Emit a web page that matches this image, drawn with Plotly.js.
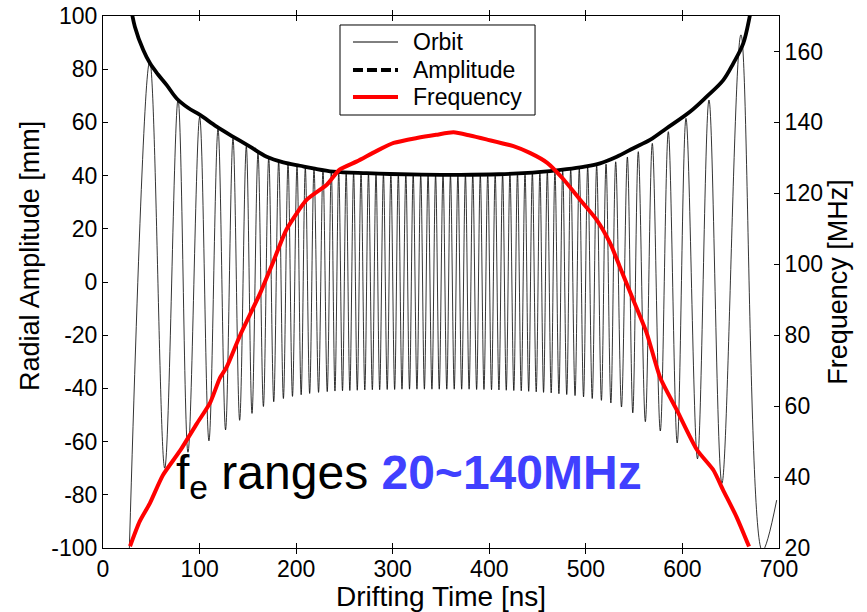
<!DOCTYPE html>
<html>
<head>
<meta charset="utf-8">
<script src="https://cdn.plot.ly/plotly-3.0.1.min.js"></script>
<style>html,body{margin:0;padding:0;background:#fff;}#chart{width:867px;height:612px;}</style>
</head>
<body>
<div id="chart"></div>
<script>
// Orbit: extrema (alternating troughs / peaks)
const orbitTime = [26.5, 48.4, 63.9, 77.7, 88, 100.1, 109.7, 119.1, 126.9, 134.6, 141.5, 148.4, 154.3, 160.5, 166.1, 171.6, 176.8, 181.9, 186.8, 191.6, 196.2, 200.9, 205.2, 209.5, 214, 218.5, 223.2, 227.8, 232.2, 236.4,
  240.2, 244.1, 248, 251.8, 255.6, 259.5, 263.3, 267.2, 271.1, 274.9, 278.9, 282.7, 286.5, 290.4, 294.3, 298.1, 302, 305.8, 309.6, 313.6, 317.4, 321.2, 325.1, 329, 332.8, 336.6, 340.6, 344.4, 348.2, 352.1, 356, 359.8, 363.7, 367.5, 371.4, 375.3, 379.1, 382.9, 386.9, 390.7, 394.5, 398.4, 402.3, 406.1, 410, 413.8, 417.6, 421.4, 425.4, 429.2, 433.1, 437, 440.8, 444.6, 448.6, 452.4, 456.2, 460.1, 464.1, 468,
  472.1, 476, 480.2, 484.3, 488.8, 493.2, 497.6, 501.9, 506.6, 511.2, 516.1, 520.9, 525.9, 530.9, 536.9, 543, 548.6, 554.3, 561.6, 568.8, 577.1, 585.4, 594.6, 603.7, 615.6, 627.5, 640.9, 660.6, 682.7, 697.6];
const orbitRadius = [-110, 83, -70, 68.5, -64, 62, -59.7, 57.5, -55.6, 54, -52, 51, -49.4, 48.5, -46.8, 46.8, -45, 45.4, -43.8, 44.4, -43, 43.6, -42.4, 43, -41.9, 42.5, -41.5, 42.1, -41.2, 41.7,
  -41, 41.4, -40.9, 41.2, -40.8, 41, -40.7, 40.9, -40.6, 40.8, -40.5, 40.7, -40.5, 40.6, -40.4, 40.5, -40.4, 40.5, -40.3, 40.4, -40.3, 40.4, -40.3, 40.3, -40.3, 40.3, -40.3, 40.3, -40.3, 40.3, -40.3, 40.3, -40.3, 40.3, -40.3, 40.3, -40.3, 40.4, -40.4, 40.4, -40.4, 40.5, -40.5, 40.6, -40.6, 40.7, -40.7, 40.8, -40.8, 40.9, -40.9, 41, -41.1, 41.2, -41.3, 41.4, -41.5, 41.6, -41.7, 41.8,
  -42, 42.1, -42.3, 42.4, -42.7, 42.8, -43.2, 43.2, -43.8, 43.7, -44.5, 44.3, -45.5, 45.2, -47, 47, -49.2, 49, -52.5, 52.1, -56, 56.5, -60.5, 61.5, -66.5, 68.4, -75.7, 92.9, -101, -82];

// Amplitude envelope
const ampTime = [28.5, 33, 41.7, 48.7, 57, 66, 76.3, 88, 100.4, 117.7, 134.9, 152.2, 169.5, 186.7, 204, 217.8, 238.5, 273, 297, 330, 370, 410, 440, 462.9, 480.2, 497.4, 514.7, 532, 549.2, 566.4, 583.7, 607.8, 625.1, 642.3, 652.7, 663, 670, 672];
const ampValue = [104, 96, 87.2, 82.2, 78, 74, 69, 65.5, 62.8, 58.4, 54.6, 50.9, 47.1, 45, 43.7, 42.7, 41.5, 40.9, 40.6, 40.4, 40.3, 40.5, 41, 41.7, 42.4, 43.3, 44.6, 47.1, 50.3, 53.4, 57.8, 64, 69.7, 75.9, 82.2, 89.7, 100.4, 104];

// Frequency (right axis, MHz)
const freqTime = [28, 38, 48.5, 62, 80, 97, 111, 121, 128, 142, 163, 176, 190, 211, 232, 245, 263, 283, 301, 325, 345, 363, 380, 397, 425, 442, 460, 477, 494, 511, 525, 535, 549, 563, 577, 594, 615, 632, 642, 656, 669];
const freqValue = [20.5, 27.5, 32.6, 40.5, 47.5, 55, 61, 67.9, 71, 80, 92, 100.5, 109.8, 118.2, 122.5, 126.7, 129, 131.9, 134.2, 135.6, 136.5, 137.2, 136.3, 135.2, 133.3, 131.4, 128.6, 123.9, 118.2, 112.6, 106, 99.4, 90, 80.6, 68, 59, 47.7, 42, 36.4, 28.8, 20.4];

// Tick labels
const xTicks = [0, 100, 200, 300, 400, 500, 600, 700];
const yTicks = [-100, -80, -60, -40, -20, 0, 20, 40, 60, 80, 100];
const yTickText = ['-100', '-80', '-60', '-40', '-20', '0', '20', '40', '60', '80', '100'];
const y2Ticks = [20, 40, 60, 80, 100, 120, 140, 160];

// Legend entries
const seriesNames = ['Orbit', 'Amplitude', 'Frequency'];

const FONT = 'Arial, "Liberation Sans", Helvetica, sans-serif';
const styles = [
  {color: '#000', width: 0.8},
  {color: '#000', width: 3.8},
  {color: '#ff0000', width: 4}
];
const legendDash = ['solid', '10px,4px', 'solid'];

const traces = [
  {x: orbitTime, y: orbitRadius, type: 'scatter', mode: 'lines', name: seriesNames[0],
   line: Object.assign({shape: 'spline', smoothing: 1}, styles[0]), yaxis: 'y'},
  {x: ampTime, y: ampValue, type: 'scatter', mode: 'lines', name: seriesNames[1],
   line: Object.assign({shape: 'spline'}, styles[1]), yaxis: 'y'},
  {x: freqTime, y: freqValue, type: 'scatter', mode: 'lines', name: seriesNames[2],
   line: Object.assign({shape: 'spline', smoothing: 0.6}, styles[2]), yaxis: 'y2'}
];

// Legend box drawn in paper coordinates (MATLAB-style layout)
const shapes = [{type: 'rect', xref: 'paper', yref: 'paper', x0: 0.3506, x1: 0.6391, y0: 0.8139, y1: 0.9831,
  line: {color: '#000', width: 1}, fillcolor: '#fff', layer: 'above'}];
const annotations = [];
const rowY = [0.9511, 0.8985, 0.8477];
seriesNames.forEach((name, i) => {
  shapes.push({type: 'line', xref: 'paper', yref: 'paper', x0: 0.3698, x1: 0.4364, y0: rowY[i], y1: rowY[i],
    line: {color: styles[i].color, width: styles[i].width + (i === 0 ? 0.2 : 0), dash: legendDash[i]}, layer: 'above'});
  annotations.push({xref: 'paper', yref: 'paper', x: 0.4556, y: rowY[i], xanchor: 'left', yanchor: 'middle',
    showarrow: false, text: name, font: {family: FONT, size: 23, color: '#000'}});
});

annotations.push({
  xref: 'x', yref: 'y', x: 317, y: -73, xanchor: 'center', yanchor: 'middle', showarrow: false,
  text: 'f<sub>e</sub> ranges <b><span style="color:#4040ff">20~140MHz</span></b>',
  font: {family: FONT, size: 48, color: '#000'}
});
// Left axis title (placed like the original MATLAB ylabel)
annotations.push({
  xref: 'paper', yref: 'paper', x: -0.108, y: 0.549, xanchor: 'center', yanchor: 'middle', showarrow: false,
  textangle: -90, text: 'Radial Amplitude [mm]', font: {family: FONT, size: 27, color: '#000'}
});

const axisCommon = {
  showline: true, linecolor: '#000', linewidth: 1, ticks: 'inside', ticklen: 5, tickcolor: '#000',
  showgrid: false, zeroline: false, tickfont: {family: FONT, size: 23, color: '#000'}
};

const layout = {
  width: 867, height: 612,
  margin: {l: 103, r: 88, t: 16, b: 64, pad: 0},
  paper_bgcolor: '#fff', plot_bgcolor: '#fff',
  font: {family: FONT, color: '#000'},
  showlegend: false,
  xaxis: Object.assign({}, axisCommon, {range: [0, 700], tickvals: xTicks, mirror: 'allticks',
    title: {text: 'Drifting Time [ns]', font: {family: FONT, size: 28, color: '#000'}, standoff: 2}}),
  yaxis: Object.assign({}, axisCommon, {range: [-100, 100], tickvals: yTicks, ticktext: yTickText}),
  yaxis2: Object.assign({}, axisCommon, {range: [20, 170], tickvals: y2Ticks, overlaying: 'y', side: 'right',
    title: {text: 'Frequency [MHz]', font: {family: FONT, size: 27, color: '#000'}, standoff: 6}}),
  shapes: shapes,
  annotations: annotations
};

Plotly.newPlot('chart', traces, layout, {displayModeBar: false, staticPlot: true});
</script>
</body>
</html>
